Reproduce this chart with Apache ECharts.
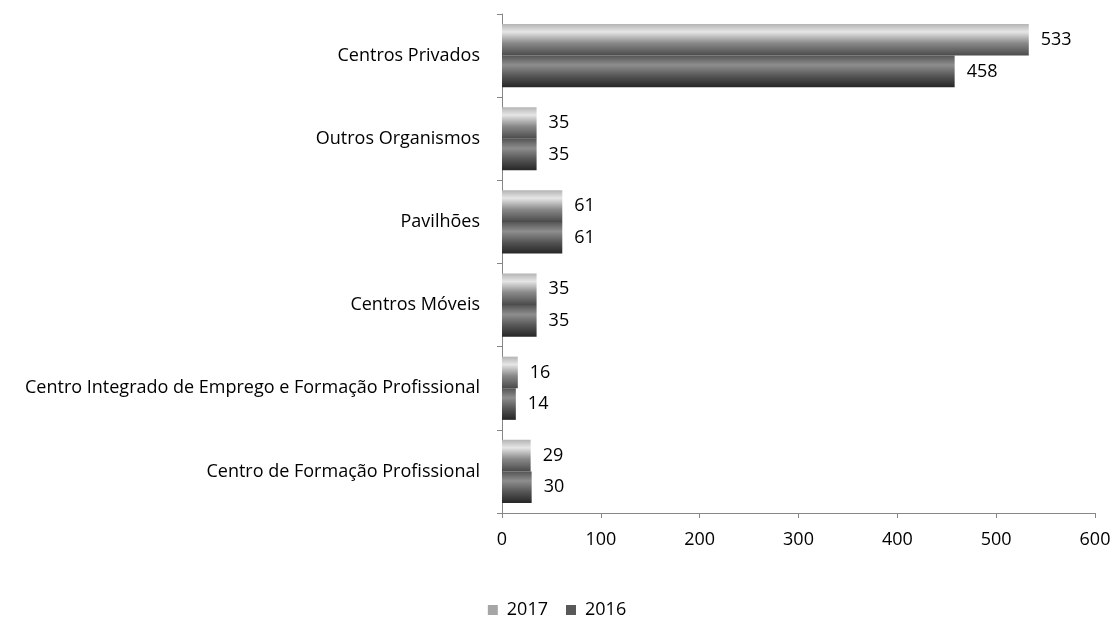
<!DOCTYPE html>
<html>
<head>
<meta charset="utf-8">
<script src="https://cdn.jsdelivr.net/npm/echarts@6/dist/echarts.min.js"></script>
<style>
  html, body { margin: 0; padding: 0; background: #fff; }
  #chart { width: 1114px; height: 618px; }
</style>
</head>
<body>
<div id="chart"></div>
<script>
// categorias, de cima para baixo
var categories = [
  'Centros Privados',
  'Outros Organismos',
  'Pavilhões',
  'Centros Móveis',
  'Centro Integrado de Emprego e Formação Profissional',
  'Centro de Formação Profissional'
];
var values2017 = [533, 35, 61, 35, 16, 29];
var values2016 = [458, 35, 61, 35, 14, 30];
var xTicks = [0, 100, 200, 300, 400, 500, 600];

var chart = echarts.init(document.getElementById('chart'));

// gradiente tipo "cilindro" do Excel
function grad(stops) {
  return new echarts.graphic.LinearGradient(0, 0, 0, 1, stops);
}
var fill2017 = grad([
  { offset: 0, color: '#b4b4b4' },
  { offset: 0.25, color: '#e6e6e6' },
  { offset: 0.6, color: '#8a8a8a' },
  { offset: 1, color: '#4a4a4a' }
]);
var fill2016 = grad([
  { offset: 0, color: '#555555' },
  { offset: 0.3, color: '#8e8e8e' },
  { offset: 0.65, color: '#555555' },
  { offset: 1, color: '#262626' }
]);

var font = '"Open Sans", sans-serif';
var fs = 18;

chart.setOption({
  animation: false,
  textStyle: { fontFamily: font },
  grid: {
    left: 502,
    right: 19,
    top: 14,
    bottom: 105,
    containLabel: false
  },
  legend: {
    top: 596,
    left: 'center',
    itemWidth: 10,
    itemHeight: 10,
    itemGap: 18,
    icon: 'rect',
    data: [
      { name: '2017', itemStyle: { color: '#a6a6a6' } },
      { name: '2016', itemStyle: { color: '#595959' } }
    ],
    textStyle: { fontSize: fs, color: '#000', fontFamily: font, padding: [0, 0, 0, 4] }
  },
  xAxis: {
    type: 'value',
    min: xTicks[0],
    max: xTicks[xTicks.length - 1],
    interval: 100,
    splitLine: { show: false },
    axisLine: { show: true, lineStyle: { color: '#868686', width: 1 } },
    axisTick: { show: true, length: 5, inside: false, lineStyle: { color: '#868686' } },
    axisLabel: { fontSize: fs, color: '#000', margin: 18, fontFamily: font }
  },
  yAxis: {
    type: 'category',
    inverse: true,
    data: categories,
    axisLine: { show: true, lineStyle: { color: '#868686', width: 1 } },
    axisTick: { show: true, length: 5, lineStyle: { color: '#868686' } },
    axisLabel: { fontSize: fs, color: '#000', margin: 22, fontFamily: font }
  },
  series: [
    {
      name: '2017',
      type: 'bar',
      data: values2017,
      barGap: '0%',
      barCategoryGap: '24%',
      itemStyle: { color: fill2017 },
      label: { show: true, position: 'right', distance: 12, fontSize: fs, color: '#000', fontFamily: font }
    },
    {
      name: '2016',
      type: 'bar',
      data: values2016,
      barGap: '0%',
      barCategoryGap: '24%',
      itemStyle: { color: fill2016 },
      label: { show: true, position: 'right', distance: 12, fontSize: fs, color: '#000', fontFamily: font }
    }
  ]
});
</script>
</body>
</html>
